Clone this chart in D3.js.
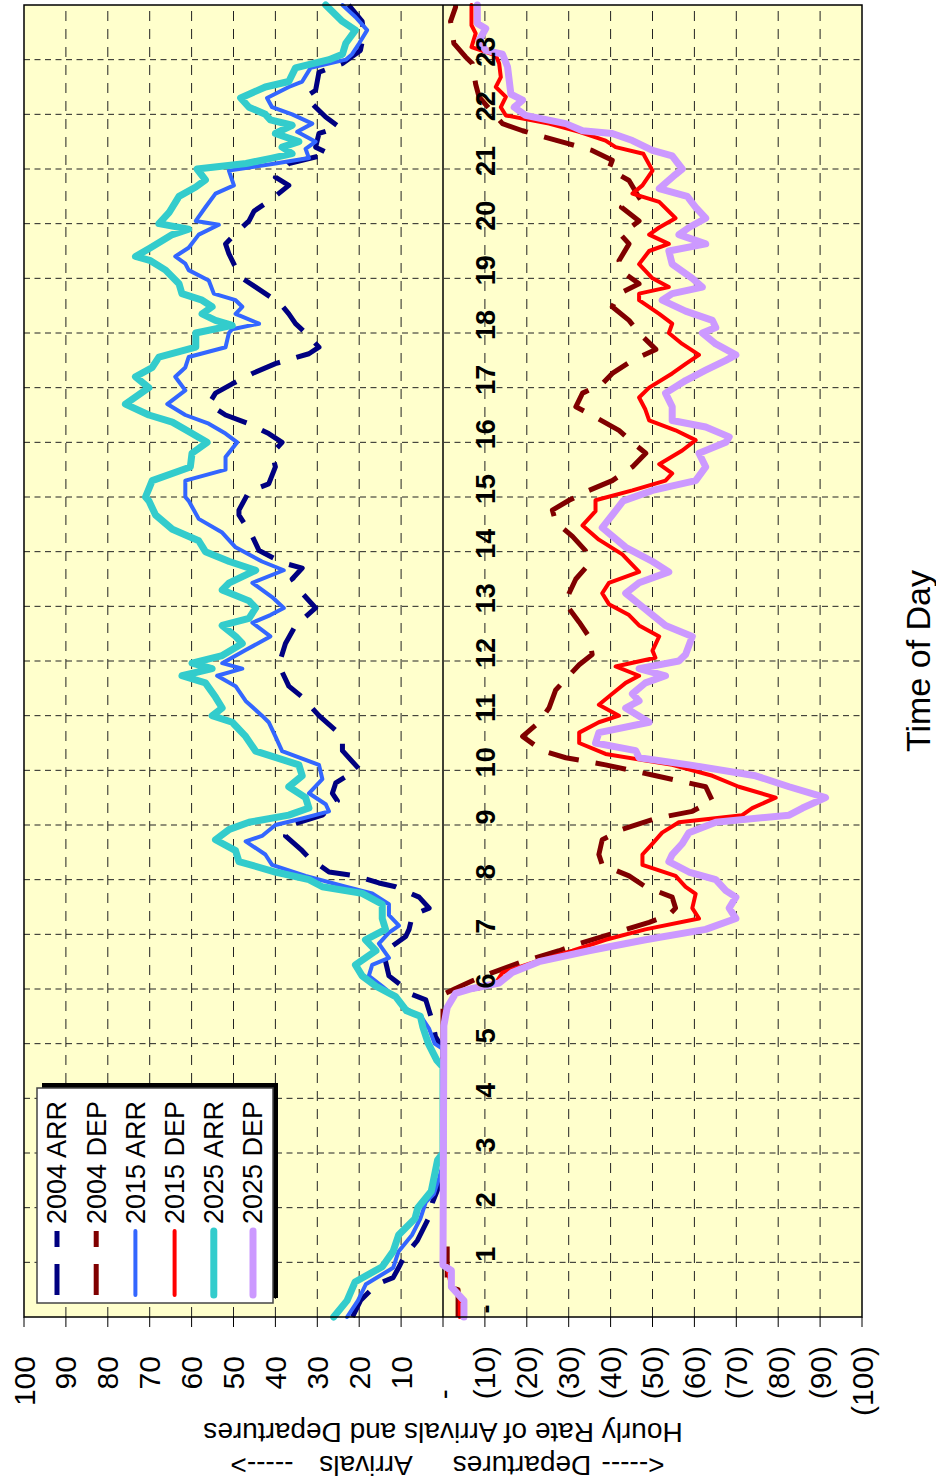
<!DOCTYPE html>
<html>
<head>
<meta charset="utf-8">
<script src="https://cdn.jsdelivr.net/npm/d3@7"></script>
<style>
  body { margin: 0; background: #ffffff; }
  svg { display: block; }
  text { font-family: "Liberation Sans", Arial, sans-serif; fill: #000; }
</style>
</head>
<body>
<svg id="chart" width="936" height="1483"></svg>
<script>
// ---- axis ticks -------------------------------------------------------
const hourTicks = d3.range(0, 24);            // 0 .. 23, drawn as "-", 1, 2 ...
const rateTicks = [100, 90, 80, 70, 60, 50, 40, 30, 20, 10, 0,
                   -10, -20, -30, -40, -50, -60, -70, -80, -90, -100];

// ---- series: [hour of day, hourly rate] -------------------------------
const arr2004 = [[0,21.6],[0.3,19.7],[0.6,15.8],[0.72,11.9],[0.9,10.6],[1.1,9.3],[1.4,6.1],[1.8,3.5],[2.1,2.5],[2.4,0.9],[2.6,0],[4.9,0],[5.13,1.8],[5.4,2.5],[5.6,3.3],[5.8,4.1],[5.92,8.1],[6.05,9.7],[6.24,12.9],[6.5,13.7],[6.7,13.7],[6.96,8.9],[7.09,8.1],[7.35,7.3],[7.48,3.3],[7.68,5.7],[7.87,11.3],[7.94,15.3],[8.07,20.9],[8.14,27.2],[8.4,32],[8.53,33.6],[8.8,37.6],[8.99,36.8],[9.18,28.8],[9.44,25.2],[9.58,26.4],[9.77,25.6],[10.03,20.1],[10.36,24],[10.62,24],[11.0,29.6],[11.34,33.6],[11.54,36.8],[11.93,39.2],[12.32,37.6],[12.65,35.2],[12.97,30.4],[13.24,33.6],[13.5,36],[13.7,33.6],[13.8,38.4],[14.02,43.9],[14.28,45.5],[14.67,48.7],[14.76,48.7],[15.1,46.3],[15.24,41.6],[15.55,40],[15.8,40.8],[16.0,38.4],[16.16,41.6],[16.34,46.3],[16.5,51.9],[16.7,55.9],[16.9,54.3],[17.07,50.3],[17.26,45.5],[17.44,40],[17.62,32],[17.74,29.6],[18.0,32.8],[18.17,35.2],[18.35,36.8],[18.5,38.4],[18.66,41.2],[18.84,44.7],[19.0,47.9],[19.2,49.5],[19.45,51.1],[19.63,51.9],[19.88,48.7],[20.05,46.3],[20.23,45.1],[20.43,41.2],[20.7,36.8],[20.85,40],[21.1,36.8],[21.28,27.2],[21.4,30.4],[21.65,29.6],[21.77,24.8],[21.95,28],[22.13,30.4],[22.32,32.8],[22.44,30.4],[22.77,29.6],[22.93,24],[23.17,19.7],[23.48,18.9],[23.7,19.3],[24,22.5]];

const dep2004 = [[0,3.6],[0.5,3.6],[0.55,1],[1.4,1],[1.45,0],[5.75,0],[5.8,0.6],[5.92,0.6],[6.01,3],[6.15,7],[6.3,11.8],[6.5,19],[6.7,27.7],[6.83,32.5],[7.03,41.2],[7.22,49.2],[7.35,53.9],[7.48,55.5],[7.68,54.7],[7.87,48.3],[8.07,44.4],[8.27,38],[8.46,37.2],[8.73,38],[8.92,42.8],[9.12,50.8],[9.25,59.5],[9.44,64.3],[9.7,62.7],[9.9,50.8],[10.1,38.8],[10.23,29.3],[10.36,23.7],[10.62,19],[10.88,22.9],[11.14,25.3],[11.47,26.9],[11.67,29.3],[11.93,32.5],[12.12,35.6],[12.45,34.8],[12.71,32.5],[13.04,29.3],[13.24,30.1],[13.5,31.7],[13.7,34],[14.02,34],[14.28,30.9],[14.54,26.9],[14.76,26.1],[14.94,30.1],[15.12,34.8],[15.3,40.4],[15.55,45.2],[15.8,48.4],[16.0,45.2],[16.22,42],[16.46,36.4],[16.65,31.7],[16.9,33.3],[17.07,38],[17.26,40.4],[17.5,45.2],[17.7,50.8],[18.0,46.8],[18.23,44.4],[18.48,40.4],[18.72,42],[18.9,46.8],[19.12,42.8],[19.32,42],[19.63,44.4],[19.8,42.4],[20.05,46.8],[20.3,42.6],[20.48,46.8],[20.79,44.4],[21.0,39.6],[21.16,40.4],[21.34,35.6],[21.46,30.1],[21.58,24.5],[21.7,19],[21.83,14.2],[22.0,12.2],[22.32,8.6],[22.55,7.8],[22.93,7],[23.05,5.4],[23.3,2.6],[23.7,1.8],[23.96,3],[24,3]];

const arr2015 = [[0,22.9],[0.3,20.3],[0.6,18.4],[0.9,11.9],[1.2,10.6],[1.5,7.4],[1.8,5.4],[2.1,4.1],[2.25,2.2],[2.55,0.9],[2.8,0],[4.9,0],[5.0,2],[5.27,3.3],[5.46,4.9],[5.65,8.9],[5.85,11.3],[6.05,14.5],[6.24,17.7],[6.44,16.9],[6.57,12.9],[6.83,15.3],[7.03,12.9],[7.16,10.5],[7.35,12.9],[7.55,12.9],[7.75,16.9],[7.87,23.2],[8.07,32.8],[8.27,40.8],[8.46,42.4],[8.7,47.1],[8.8,43.2],[9.0,40],[9.12,33.6],[9.25,27.2],[9.38,28],[9.58,32],[9.84,28.8],[10.1,29.6],[10.35,38.4],[10.62,40],[10.88,41.6],[11.0,43.2],[11.27,47.1],[11.54,49.5],[11.73,53.9],[11.86,47.9],[11.96,52.7],[12.2,47.1],[12.45,41.2],[12.7,45.5],[12.84,41.2],[12.97,38],[13.17,40.8],[13.43,45.5],[13.66,38],[13.82,43.2],[14.08,49.5],[14.35,52.7],[14.6,58.3],[14.93,60.7],[15.0,61.5],[15.3,61.5],[15.5,51.9],[15.73,51.9],[16.0,49.1],[16.16,51.9],[16.34,55.9],[16.5,61.5],[16.7,65.8],[16.95,61.5],[17.2,63.9],[17.37,61.5],[17.56,60.7],[17.74,51.9],[18.0,51.1],[18.07,50.3],[18.17,43.9],[18.35,49.5],[18.48,47.9],[18.6,49.5],[18.72,54.7],[18.96,55.9],[19.15,60.7],[19.27,61.5],[19.4,63.9],[19.56,60.7],[19.8,58.3],[19.98,53.5],[20.05,59],[20.3,56.7],[20.55,54.3],[20.7,49.9],[20.97,51.1],[21.1,40],[21.2,32],[21.37,32.8],[21.5,30.4],[21.68,34.8],[21.83,31.2],[22.0,36],[22.13,40.8],[22.3,42],[22.5,36.8],[22.6,33.6],[22.85,31.6],[23.0,23.2],[23.1,21.7],[23.3,20],[23.54,18.1],[23.78,20.9],[24,24]];

const dep2015 = [[0,4],[0.4,4],[0.55,2],[0.9,1],[1.0,0],[5.3,0],[5.6,0.8],[5.95,3],[6.01,8.6],[6.11,12.6],[6.3,14.2],[6.5,22.1],[6.7,30.9],[6.9,38.8],[7.09,48.3],[7.29,61.1],[7.48,59.5],[7.74,60.3],[7.87,57.9],[8.07,55.5],[8.27,47.6],[8.46,47.6],[8.66,50],[8.86,52.3],[9.05,56.3],[9.18,71.4],[9.31,73.8],[9.5,79.4],[9.7,70.6],[9.9,64.3],[10.1,54.7],[10.3,38.8],[10.5,32.5],[10.69,32.5],[10.88,37.2],[11.0,42],[11.2,37.2],[11.4,40.4],[11.6,43.6],[11.73,46.8],[11.9,41.2],[12.06,50.7],[12.19,50],[12.45,51.6],[12.65,46.8],[12.84,44.4],[13.04,39.6],[13.24,38],[13.43,39.6],[13.63,46.8],[13.76,45.2],[13.95,42.8],[14.22,37.2],[14.48,33.3],[14.74,36.4],[14.94,36.4],[15.12,45.2],[15.3,53.1],[15.43,54.7],[15.6,51.6],[15.85,57.1],[16.04,60.3],[16.22,55.5],[16.4,49.2],[16.6,48.3],[16.82,46.8],[17.0,49.2],[17.26,54.7],[17.44,58],[17.6,61.1],[17.8,57.1],[18.0,53.9],[18.17,54.7],[18.35,51.6],[18.6,46.8],[18.72,46.8],[18.84,53.9],[19.0,50],[19.26,46.8],[19.5,49.2],[19.63,53.9],[19.8,49.2],[19.93,51.6],[20.1,55.5],[20.4,51.6],[20.55,45.2],[20.7,47.6],[20.97,50],[21.28,47.8],[21.4,41.2],[21.52,38.8],[21.68,32.5],[21.83,25.3],[21.98,15],[22.13,13.8],[22.32,15],[22.5,12.6],[22.68,13.8],[22.93,13.4],[23.08,12.6],[23.23,6.8],[23.48,7.8],[23.63,6.8],[24,6.8]];

const arr2025 = [[0,26.1],[0.3,22.9],[0.64,21],[0.92,14.5],[1.2,11.9],[1.5,10.6],[1.8,6.7],[2.0,6],[2.3,2.8],[2.87,1.3],[3.0,0],[4.57,0],[4.7,1.5],[5.0,3.5],[5.3,4.8],[5.5,5.4],[5.6,8.7],[5.86,11.3],[6.05,16],[6.24,19.3],[6.44,20.9],[6.7,16],[6.9,18.5],[7.09,13.7],[7.29,14.5],[7.55,14.5],[7.75,19.3],[7.87,28.8],[8.0,32],[8.14,40],[8.33,48.7],[8.53,49.5],[8.73,54.3],[8.92,51],[9.05,46.3],[9.18,36.8],[9.31,32],[9.5,32.8],[9.7,36.8],[9.9,33.6],[10.1,34.4],[10.35,44.7],[10.62,47.1],[10.88,50.3],[11.0,55.1],[11.14,52.7],[11.34,54.3],[11.6,56.7],[11.73,62.3],[11.86,55.1],[11.96,59.9],[12.1,52.7],[12.32,47.9],[12.45,49.5],[12.65,52.7],[12.78,46.3],[12.97,44.7],[13.1,46.3],[13.3,52.7],[13.43,51],[13.66,44.7],[13.82,51],[14.0,56.7],[14.2,58.3],[14.41,64.6],[14.67,68.6],[14.93,70.2],[15.0,71],[15.3,69.4],[15.55,60.3],[15.8,59.9],[16.0,56.3],[16.2,60.7],[16.37,64.6],[16.5,70.2],[16.7,75.8],[17.0,70.2],[17.2,73.4],[17.37,69.4],[17.56,67.8],[17.74,59],[18.0,59],[18.14,50.3],[18.23,54.3],[18.35,57.5],[18.48,55.1],[18.6,57.5],[18.72,62.3],[18.9,63],[19.15,66.2],[19.33,70],[19.4,73.4],[19.56,69.8],[19.8,64.6],[19.9,60.7],[20.0,67.8],[20.2,65.4],[20.5,63],[20.67,59],[20.8,56.7],[21.0,58.7],[21.1,47],[21.2,40.8],[21.28,36],[21.4,38.4],[21.5,34.4],[21.65,40],[21.8,36],[21.9,41.2],[22.0,42.4],[22.13,46.3],[22.3,48.3],[22.5,42.4],[22.6,36.8],[22.85,35.2],[23.0,27.2],[23.1,24],[23.3,23.2],[23.54,20.9],[23.7,24],[24,28]];

const dep2025 = [[0,5],[0.3,5],[0.55,2],[0.85,2],[0.95,0],[5.33,0.2],[5.66,1],[5.92,3],[6.01,7],[6.11,13.4],[6.3,16.5],[6.5,22.9],[6.7,34.8],[6.9,48.3],[7.09,62.7],[7.29,69.9],[7.48,68.3],[7.68,69.9],[7.8,67.5],[8.0,65.1],[8.14,58.7],[8.33,53.9],[8.46,54.7],[8.66,57.1],[8.86,58.7],[9.05,65.1],[9.18,82.6],[9.31,85.8],[9.5,91.3],[9.7,82.6],[9.9,74.6],[10.1,58.7],[10.23,46.8],[10.36,46],[10.5,36.4],[10.69,37.2],[10.88,49.2],[11.14,43.6],[11.27,46.8],[11.4,45.2],[11.6,48.3],[11.73,53.1],[11.86,46.8],[12.0,56.3],[12.12,57.9],[12.45,59.5],[12.65,53.1],[12.84,50],[13.04,46.8],[13.24,43.6],[13.43,46.8],[13.63,53.9],[13.82,50],[14.08,43.6],[14.44,38],[14.67,40.4],[14.93,43],[15.12,50],[15.3,60.3],[15.55,62.7],[15.8,61.1],[16.0,67.5],[16.1,68.3],[16.28,62.7],[16.4,54.7],[16.65,54.7],[16.9,53.1],[17.13,57.9],[17.32,62.7],[17.5,67.5],[17.6,69.9],[17.8,65.1],[18.0,61.9],[18.1,65.1],[18.23,64.3],[18.4,57.9],[18.6,52.3],[18.72,54.7],[18.84,61.9],[19.0,59.5],[19.26,54.7],[19.5,53.9],[19.63,62.7],[19.8,56.3],[19.93,58.7],[20.1,62.7],[20.3,60.3],[20.5,58.3],[20.64,51.6],[20.9,55.5],[21.0,57.1],[21.24,54.7],[21.34,50],[21.52,45.2],[21.65,40.4],[21.7,33.3],[21.83,29.3],[21.98,19.7],[22.13,17],[22.26,19],[22.37,16.2],[22.62,15.8],[22.87,15.4],[23.1,14.2],[23.17,10.2],[23.35,8.6],[23.57,10.2],[23.66,8.2],[24,8.2]];

// departures are plotted below the zero line
const series = [
  { name: "2004 ARR", data: arr2004, sign:  1, color: "#000080", width: 5,   dash: "31,17" },
  { name: "2004 DEP", data: dep2004, sign: -1, color: "#800000", width: 5,   dash: "31,17" },
  { name: "2015 ARR", data: arr2015, sign:  1, color: "#3366FF", width: 4,   dash: null },
  { name: "2015 DEP", data: dep2015, sign: -1, color: "#FF0000", width: 4,   dash: null },
  { name: "2025 ARR", data: arr2025, sign:  1, color: "#33CCCC", width: 7,   dash: null },
  { name: "2025 DEP", data: dep2025, sign: -1, color: "#CC99FF", width: 7,   dash: null }
];

// ---- layout -------------------------------------------------------------
const W = 936, H = 1483;
const svg = d3.select("#chart");
// the chart is laid out landscape (H wide, W tall) and turned a quarter turn counter-clockwise
const g = svg.append("g").attr("transform", `translate(0,${H}) rotate(-90)`);

const plot = { left: 166, right: 1478, top: 24, bottom: 862 };
const x = d3.scaleLinear().domain([0, 24]).range([plot.left, plot.right]);
const y = d3.scaleLinear().domain([100, -100]).range([plot.top, plot.bottom]);

const rateFmt = v => v > 0 ? String(v) : v < 0 ? `(${-v})` : "-";
const hourFmt = h => h === 0 ? "-" : String(h);

// plot background
g.append("rect")
  .attr("x", plot.left).attr("y", plot.top)
  .attr("width", plot.right - plot.left).attr("height", plot.bottom - plot.top)
  .attr("fill", "#FFFFCC");

// rate gridlines
g.append("g").selectAll("line")
  .data(rateTicks.filter(v => v !== 0 && Math.abs(v) !== 100))
  .join("line")
  .attr("x1", plot.left).attr("x2", plot.right)
  .attr("y1", d => y(d)).attr("y2", d => y(d))
  .attr("stroke", "#222").attr("stroke-width", 1)
  .attr("stroke-dasharray", "10,8");

// hour gridlines
g.append("g").selectAll("line")
  .data(hourTicks.filter(h => h > 0))
  .join("line")
  .attr("x1", d => x(d)).attr("x2", d => x(d))
  .attr("y1", plot.top).attr("y2", plot.bottom)
  .attr("stroke", "#222").attr("stroke-width", 1)
  .attr("stroke-dasharray", "6,4.5");

// zero line
g.append("line")
  .attr("x1", plot.left).attr("x2", plot.right)
  .attr("y1", y(0)).attr("y2", y(0))
  .attr("stroke", "#000").attr("stroke-width", 1.5);

// rate axis (left of the landscape plot)
const rateFs = 30;
g.append("g").selectAll("line")
  .data(rateTicks).join("line")
  .attr("x1", plot.left - 10).attr("x2", plot.left)
  .attr("y1", d => y(d)).attr("y2", d => y(d))
  .attr("stroke", "#000").attr("stroke-width", 1);

g.append("g").selectAll("text")
  .data(rateTicks).join("text")
  .attr("x", d => 137 - (d > 0 ? 0.333 * rateFs : d === 0 ? 1.445 * rateFs : 0))
  .attr("y", d => y(d))
  .attr("dy", "0.35em")
  .attr("text-anchor", "end")
  .attr("font-size", rateFs)
  .text(rateFmt);

// series lines
const line = d3.line();
series.forEach(s => {
  g.append("path")
    .attr("d", line(s.data.map(d => [x(d[0]), y(s.sign * d[1])])))
    .attr("fill", "none")
    .attr("stroke", s.color)
    .attr("stroke-width", s.width)
    .attr("stroke-linejoin", "round")
    .attr("stroke-linecap", s.dash ? "butt" : "round")
    .attr("stroke-dasharray", s.dash);
});

// hour labels sit just below the zero line, on top of the series
g.append("g").selectAll("text")
  .data(hourTicks).join("text")
  .attr("x", d => x(d) + 8)
  .attr("y", y(0) + 52)
  .attr("text-anchor", "middle")
  .attr("font-size", 27)
  .attr("font-weight", "bold")
  .text(hourFmt);

// plot frame
g.append("rect")
  .attr("x", plot.left).attr("y", plot.top)
  .attr("width", plot.right - plot.left).attr("height", plot.bottom - plot.top)
  .attr("fill", "none").attr("stroke", "#000").attr("stroke-width", 1.5);

// legend with drop shadow
const lg = { x: 180, y: 37, w: 215, h: 236 };
g.append("rect")
  .attr("x", lg.x + 5).attr("y", lg.y + 5).attr("width", lg.w).attr("height", lg.h)
  .attr("fill", "#000");
g.append("rect")
  .attr("x", lg.x).attr("y", lg.y).attr("width", lg.w).attr("height", lg.h)
  .attr("fill", "#fff").attr("stroke", "#444").attr("stroke-width", 1.5);

const legendRow = d3.scaleLinear().domain([0, 5]).range([57, 253]);
const items = g.append("g").selectAll("g").data(series).join("g")
  .attr("transform", (d, i) => `translate(0,${legendRow(i)})`);
items.append("line")
  .attr("x1", 188).attr("x2", 252)
  .attr("stroke", d => d.color)
  .attr("stroke-width", d => d.width)
  .attr("stroke-linecap", d => d.dash ? "butt" : "round")
  .attr("stroke-dasharray", d => d.dash);
items.append("text")
  .attr("x", 259).attr("dy", "0.35em")
  .attr("font-size", 27)
  .text(d => d.name);

// axis titles
g.append("text")
  .attr("x", (plot.left + plot.right) / 2)
  .attr("y", 918).attr("dy", "0.35em")
  .attr("text-anchor", "middle")
  .attr("font-size", 34)
  .text("Time of Day");

g.append("text")
  .attr("transform", `translate(50,${y(0)}) rotate(-90)`)
  .attr("dy", "0.35em")
  .attr("text-anchor", "middle")
  .attr("font-size", 28)
  .text("Hourly Rate of Arrivals and Departures");

const directionParts = [
  { t: "<-----", at: 633 },
  { t: "Departures", at: 522 },
  { t: "Arrivals", at: 366 },
  { t: "----->", at: 262 }
];
g.append("g").selectAll("text").data(directionParts).join("text")
  .attr("transform", d => `translate(17,${d.at}) rotate(-90)`)
  .attr("dy", "0.35em")
  .attr("text-anchor", "middle")
  .attr("font-size", 28)
  .text(d => d.t);
</script>
</body>
</html>
